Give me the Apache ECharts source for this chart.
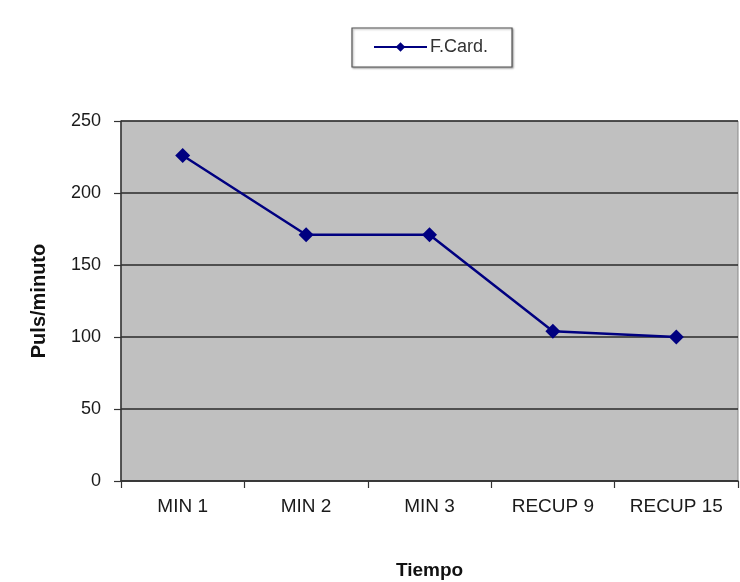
<!DOCTYPE html>
<html>
<head>
<meta charset="utf-8">
<script src="https://cdn.jsdelivr.net/npm/echarts@6/dist/echarts.min.js"></script>
<style>
  html, body { margin: 0; padding: 0; background: #fff; }
  #chart { width: 740px; height: 582px; }
</style>
</head>
<body>
<div id="chart"></div>
<script>
// Heart rate during exercise and recovery
const categories = ['MIN 1', 'MIN 2', 'MIN 3', 'RECUP 9', 'RECUP 15'];
const frecuencia = [226, 171, 171, 104, 100];
const yTicks = [0, 50, 100, 150, 200, 250];

const chart = echarts.init(document.getElementById('chart'));
const fontFamily = '"Liberation Sans", Arial, sans-serif';

chart.setOption({
  animation: false,
  backgroundColor: '#ffffff',
  textStyle: { fontFamily: fontFamily },
  legend: {
    data: ['F.Card.'],
    left: 352,
    top: 28,
    padding: [10, 24, 11, 21],
    itemWidth: 53,
    itemHeight: 12,
    itemGap: 0,
    borderColor: '#555',
    borderWidth: 1.2,
    shadowColor: 'rgba(0,0,0,0.35)',
    shadowBlur: 2,
    shadowOffsetX: 1,
    shadowOffsetY: 1,
    backgroundColor: '#fff',
    textStyle: { fontSize: 18, color: '#333', fontFamily: fontFamily, padding: [0, 0, 0, -2] }
  },
  grid: { left: 121, right: 2, top: 121, bottom: 101, containLabel: false,
          outerBoundsMode: 'none',
          show: true, backgroundColor: '#c0c0c0', borderColor: '#888', borderWidth: 1 },
  xAxis: {
    type: 'category',
    data: categories,
    boundaryGap: true,
    name: 'Tiempo',
    nameLocation: 'middle',
    nameGap: 80,
    nameTextStyle: { fontSize: 19, fontWeight: 'bold', color: '#111' },
    axisLine: { lineStyle: { color: '#333', width: 1.5 } },
    axisTick: { show: true, length: 7, alignWithLabel: false, lineStyle: { color: '#333', width: 1.2 } },
    axisLabel: { fontSize: 19, color: '#1a1a1a', margin: 16 },
    splitLine: { show: false }
  },
  yAxis: {
    type: 'value',
    min: 0,
    max: 250,
    interval: 50,
    name: 'Puls/minuto',
    nameLocation: 'middle',
    nameGap: 72,
    nameTextStyle: { fontSize: 20, fontWeight: 'bold', color: '#111' },
    axisLine: { show: true, lineStyle: { color: '#333', width: 1.5 } },
    axisTick: { show: true, length: 7, lineStyle: { color: '#333', width: 1.2 } },
    axisLabel: {
      fontSize: 18, color: '#1a1a1a', margin: 20,
      formatter: v => (yTicks.indexOf(v) >= 0 ? String(v) : '')
    },
    splitLine: { show: true, lineStyle: { color: '#2a2a2a', width: 1.5 } }
  },
  series: [{
    name: 'F.Card.',
    type: 'line',
    data: frecuencia,
    symbol: 'diamond',
    symbolSize: 15,
    lineStyle: { color: '#000080', width: 2.5 },
    itemStyle: { color: '#000080' }
  }]
});
</script>
</body>
</html>
